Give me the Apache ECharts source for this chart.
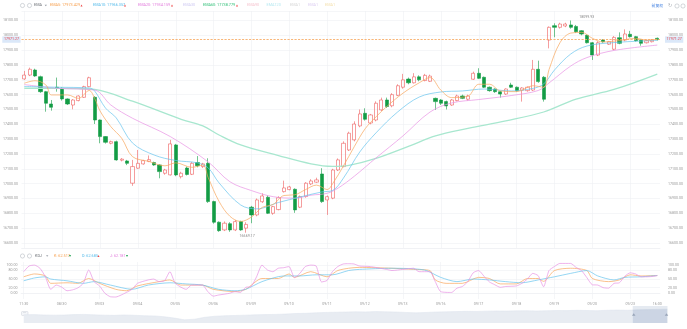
<!DOCTYPE html>
<html>
<head>
<meta charset="utf-8">
<title>EMA / KDJ 60分钟K线</title>
<script src="https://cdn.jsdelivr.net/npm/echarts@6/dist/echarts.min.js"></script>
<style>
  html, body { margin: 0; padding: 0; background: #ffffff; }
  #chart { width: 687px; height: 329px; }
</style>
</head>
<body>
<div id="chart"></div>
<script>
// ---- tick labels of the time axis (one label every tickStep bars) ----
const tickLabels = ['11:30', '08/30', '09/03', '09/04', '09/05', '09/06', '09/09', '09/10', '09/11',
  '09/12', '09/13', '09/16', '09/17', '09/18', '09/19', '09/20', '09/23'];
const closingTick = '16:00';
const tickStep = 7;

// ---- 60-minute bars: [open, close, low, high] ----
const bars = [
  [17706, 17732, 17700, 17760], [17732, 17771, 17725, 17782], [17766, 17726, 17720, 17775], [17721, 17620, 17612, 17728],
  [17620, 17542, 17485, 17625], [17537, 17515, 17492, 17564], [17650, 17644, 17620, 17715], [17643, 17571, 17560, 17650],
  [17571, 17537, 17530, 17575], [17530, 17564, 17501, 17570], [17560, 17591, 17555, 17595], [17582, 17654, 17578, 17660],
  [17654, 17714, 17650, 17721], [17582, 17429, 17402, 17590], [17429, 17317, 17272, 17432], [17317, 17279, 17270, 17320],
  [17272, 17283, 17265, 17290], [17283, 17160, 17155, 17290], [17158, 17165, 17150, 17172], [17153, 17137, 17125, 17160],
  [17003, 17115, 16985, 17160], [17104, 17137, 17100, 17227], [17133, 17155, 17128, 17160], [17150, 17162, 17145, 17190],
  [17142, 17126, 17120, 17148], [17126, 17081, 17036, 17130], [17070, 17092, 17060, 17100], [17059, 17268, 17055, 17295],
  [17261, 17059, 17050, 17268], [17047, 17070, 17035, 17080], [17105, 17062, 17055, 17115], [17063, 17137, 17058, 17145],
  [17142, 17121, 17110, 17186], [17115, 17133, 17105, 17140], [17137, 16879, 16870, 17171], [16879, 16740, 16730, 16885],
  [16740, 16683, 16675, 16745], [16688, 16733, 16680, 16745], [16730, 16688, 16675, 16740], [16688, 16744, 16680, 16755],
  [16744, 16688, 16682, 16750], [16700, 16725, 16669.17, 16740], [16841, 16789, 16733, 16850], [16789, 16890, 16780, 16900],
  [16878, 16917, 16870, 16935], [16908, 16800, 16795, 16920], [16800, 16845, 16790, 16850], [16825, 16905, 16820, 16915],
  [16946, 16971, 16940, 17020], [16960, 16978, 16955, 16985], [16962, 16823, 16803, 16968], [16841, 16913, 16835, 16920],
  [16913, 17003, 16905, 17010], [16998, 17018, 16990, 17030], [17010, 17025, 17005, 17040], [17065, 16879, 16870, 17104],
  [16890, 16912, 16789, 16920], [16902, 17092, 16895, 17100], [17092, 17160, 17085, 17170], [17115, 17272, 17110, 17285],
  [17227, 17340, 17220, 17350], [17295, 17402, 17285, 17420], [17389, 17470, 17380, 17500], [17474, 17434, 17425, 17508],
  [17409, 17463, 17400, 17470], [17429, 17542, 17420, 17555], [17497, 17564, 17490, 17580], [17564, 17520, 17510, 17580],
  [17525, 17600, 17515, 17610], [17595, 17660, 17590, 17670], [17650, 17700, 17640, 17740], [17705, 17680, 17670, 17715],
  [17680, 17720, 17675, 17745], [17720, 17700, 17690, 17730], [17695, 17730, 17690, 17740], [17690, 17725, 17685, 17735],
  [17575, 17553, 17497, 17580], [17564, 17542, 17530, 17570], [17553, 17524, 17500, 17560], [17530, 17564, 17525, 17570],
  [17560, 17591, 17555, 17600], [17591, 17575, 17570, 17600], [17569, 17591, 17560, 17600], [17704, 17744, 17700, 17755],
  [17744, 17710, 17705, 17778], [17717, 17650, 17645, 17722], [17650, 17627, 17620, 17655], [17638, 17620, 17612, 17642],
  [17620, 17604, 17580, 17625], [17604, 17638, 17598, 17642], [17665, 17650, 17645, 17680], [17650, 17627, 17620, 17655],
  [17630, 17645, 17553, 17650], [17627, 17650, 17620, 17655], [17631, 17771, 17625, 17834], [17771, 17688, 17680, 17829],
  [17717, 17569, 17553, 17725], [17968, 18054, 17912, 18060], [18065, 18054, 17987, 18081], [18054, 18076, 18045, 18085],
  [18063, 18076, 18055, 18085], [18070, 18054, 18045, 18099.93], [18060, 18024, 18015, 18070], [18031, 18009, 18000, 18035],
  [18000, 17950, 17945, 18005], [17950, 17867, 17834, 17955], [17867, 17950, 17860, 17960], [17968, 17957, 17950, 17975],
  [17940, 17957, 17935, 17962], [17906, 17986, 17900, 17995], [17984, 17946, 17940, 18020], [17968, 18009, 17960, 18040],
  [18007, 17991, 17985, 18030], [17991, 17964, 17958, 17996], [17968, 17946, 17930, 17972], [17950, 17964, 17945, 17970],
  [17957, 17968, 17952, 17975], [17980, 17971.27, 17965, 17985]
];

// ---- moving averages, [bar index, value] ----
const ema5 = [[0, 17677], [2, 17694], [4, 17665], [5, 17598], [8, 17598], [10, 17575], [12, 17628], [13, 17575], [14, 17490],
  [16, 17384], [18, 17306], [20, 17182], [23, 17150], [26, 17120], [28, 17140], [31, 17110], [33, 17125], [34, 17040],
  [36, 16880], [38, 16780], [40, 16745], [42, 16775], [44, 16840], [46, 16860], [48, 16920], [50, 16925], [52, 16960],
  [54, 16990], [56, 16960], [57, 17000], [59, 17120], [61, 17250], [63, 17370], [65, 17450], [67, 17520], [70, 17610],
  [73, 17680], [75, 17715], [77, 17630], [79, 17580], [82, 17590], [84, 17670], [86, 17670], [88, 17625], [91, 17620],
  [94, 17660], [96, 17650], [97, 17770], [99, 17950], [101, 18015], [103, 18020], [105, 17980], [107, 17955], [110, 17965],
  [113, 17980], [115, 17968], [117, 17973.429]];
const ema10 = [[0, 17655], [6, 17650], [12, 17645], [13, 17625], [15, 17510], [17, 17443], [20, 17274], [24, 17193],
  [28, 17156], [32, 17140], [34, 17106], [36, 17005], [40, 16856], [43, 16830], [47, 16873], [51, 16910], [55, 16944],
  [57, 16954], [59, 17038], [62, 17213], [65, 17342], [69, 17483], [73, 17584], [77, 17618], [81, 17625], [85, 17638],
  [90, 17625], [94, 17642], [96, 17672], [98, 17766], [101, 17874], [104, 17928], [109, 17951], [117, 17966.357]];
const ema20 = [[0, 17668], [6, 17643], [13, 17631], [16, 17530], [20, 17441], [27, 17317], [34, 17146], [38, 17013],
  [42, 16953], [46, 16912], [50, 16902], [53, 16922], [56, 16935], [58, 16970], [61, 17050], [65, 17173], [70, 17322],
  [75, 17483], [79, 17544], [84, 17567], [90, 17594], [95, 17628], [97, 17679], [101, 17793], [104, 17850], [109, 17898],
  [117, 17934.159]];
const ema60 = [[0, 17643], [10, 17640], [13, 17635], [20, 17556], [29, 17434], [33, 17389], [36, 17328], [40, 17261],
  [47, 17189], [53, 17133], [57, 17116], [60, 17123], [65, 17170], [71, 17251], [76, 17322], [82, 17372], [89, 17423],
  [96, 17483], [102, 17570], [109, 17635], [117, 17738.779]];

// ---- KDJ(9,3,3), [bar index, value] ----
const kLine = [[0, 58], [2, 68], [4, 61], [5, 35], [8, 37], [10, 35], [12, 52], [14, 35], [17, 14], [19, 9], [21, 26],
  [25, 41], [27, 47], [29, 29], [33, 29], [35, 14], [39, 6], [41, 14], [44, 52], [47, 52], [49, 68], [50, 56], [53, 76],
  [56, 58], [58, 80], [60, 88], [62, 91], [68, 88], [72, 84], [75, 80], [76, 47], [78, 35], [81, 35], [84, 56], [86, 52],
  [88, 33], [91, 33], [93, 52], [95, 52], [96, 42], [98, 80], [101, 88], [104, 80], [105, 52], [108, 41], [110, 47],
  [112, 65], [114, 61], [117, 62.517]];
const dLine = [[0, 44], [2, 54], [4, 58], [5, 50], [8, 44], [11, 35], [13, 41], [16, 29], [20, 14], [23, 29], [27, 37],
  [30, 33], [33, 29], [36, 14], [39, 9], [41, 14], [44, 41], [48, 61], [51, 61], [54, 65], [57, 65], [60, 80], [62, 84],
  [68, 88], [74, 82], [77, 56], [80, 41], [83, 50], [86, 47], [89, 41], [92, 37], [95, 47], [98, 58], [101, 70], [104, 80],
  [106, 61], [109, 47], [111, 56], [114, 58], [117, 62.685]];
const jLine = [[0, 76], [1, 96], [2, 99], [3, 88], [4, 58], [5, 14], [6, 29], [7, 22], [8, 9], [9, 12], [10, 19], [11, 35],
  [12, 82], [13, 41], [14, 26], [15, 0], [16, -12], [17, -13], [18, -6], [20, 14], [21, 35], [23, 47], [24, 50], [25, 41],
  [26, 44], [27, 76], [28, 35], [30, 14], [31, 29], [33, 29], [34, 6], [35, -10], [36, -6], [38, 0], [39, 6], [40, 3],
  [41, 21], [42, 24], [43, 58], [44, 99], [45, 82], [46, 76], [47, 88], [48, 90], [49, 94], [50, 55], [51, 70], [52, 94],
  [53, 99], [54, 96], [55, 40], [56, 45], [57, 76], [58, 94], [59, 103], [60, 104], [61, 103], [62, 96], [64, 94], [67, 84],
  [68, 80], [70, 84], [72, 88], [73, 76], [75, 76], [76, 41], [77, 6], [79, 3], [80, 18], [81, 24], [82, 41], [83, 72],
  [84, 80], [85, 60], [86, 40], [87, 30], [88, 21], [89, 24], [91, 26], [92, 35], [93, 50], [94, 70], [95, 62], [96, 23],
  [97, 80], [98, 94], [99, 105], [101, 105], [102, 91], [103, 80], [104, 55], [105, 30], [106, 29], [107, 20], [108, 18],
  [109, 35], [110, 37], [111, 60], [112, 72], [113, 68], [114, 58], [115, 58], [116, 59], [117, 62.181]];
const kdjTicks = [0, 20, 50, 80, 100];

// ---- long-range closes behind the zoom slider ----
const historyClose = [16440, 16500, 16410, 16350, 16380, 16500, 16560, 16440, 16350, 16290, 16410, 16320,
  16200, 16140, 15900, 15540, 15060, 15240, 15750, 16050, 16200, 16260, 16350, 16440, 16500, 16560, 16650, 16800,
  16860, 16980, 17100, 17160, 17220, 17280, 17250, 17340, 17280, 17220, 17100, 16980, 17100, 17220, 17280, 17340,
  17400, 17370, 17460, 17520, 17490, 17550, 17580, 17520, 17580, 17640, 17610, 17700, 17640, 17580, 17700, 17760,
  17700, 17820, 17880, 17940, 18000];

// ---------------------------------------------------------------------------
const N = bars.length;
const categories = bars.map((_, i) => String(i));
const tickIdx = tickLabels.map((_, k) => k * tickStep);
const lastClose = bars[N - 1][1];
const last = arr => arr[arr.length - 1][1];

const FONT = 'Roboto, "Noto Sans", sans-serif';
const AXIS_FS = 3.6;
const LEG_FS = 3.8;
const GRID_COLOR = '#eef0f3';

const priceFmt = v => (Math.abs(v % 100) < 1e-6 ? v.toFixed(2) : '');
const kdjFmt = v => (kdjTicks.indexOf(v) >= 0 ? v.toFixed(2) : '');

const axisLabelBase = { fontSize: AXIS_FS, color: '#9b9b9b', fontFamily: FONT };

const vGrid = tickIdx.map(i => ({ xAxis: i }));
const gridLineMark = extra => Object.assign({
  silent: true, symbol: 'none', animation: false, z: 1,
  label: { show: false },
  lineStyle: { color: GRID_COLOR, width: 0.6, type: 'solid' }
}, extra);

// legend helpers
const txt = (x, y, text, fill, extra) => ({
  type: 'text', x, y, silent: true,
  style: Object.assign({ text, fill, fontSize: LEG_FS, fontFamily: FONT, verticalAlign: 'middle', align: 'left' }, extra || {})
});
const ring = (cx, cy) => ({ type: 'circle', silent: true, shape: { cx, cy, r: 2.1 },
  style: { fill: 'none', stroke: '#a9aeb6', lineWidth: 0.5 } });
const caret = (x, y) => ({ type: 'polygon', silent: true,
  shape: { points: [[x, y - 0.8], [x + 2.4, y - 0.8], [x + 1.2, y + 0.8]] }, style: { fill: '#9aa0a8' } });
const arrow = (x, y, up) => ({ type: 'polygon', silent: true,
  shape: { points: up ? [[x, y + 1], [x + 2, y + 1], [x + 1, y - 1]] : [[x, y - 1], [x + 2, y - 1], [x + 1, y + 1]] },
  style: { fill: up ? '#f04848' : '#19a04c' } });

const C = {
  ema5: '#f7a04f', ema10: '#56bbea', ema20: '#e27cdc', ema60: '#35c07a',
  line5: '#f8a65c', line10: '#67c4ee', line20: '#e892e4', line60: '#a8e7cf',
  up: '#ee5c5c', down: '#139c45'
};

const graphic = [
  // main panel indicator row
  ring(22.5, 5.5), ring(29.5, 5.5),
  txt(34, 5.5, 'EMA', '#6b6f75'),
  caret(44.6, 5.5),
  txt(50, 5.5, 'EMA5: ' + last(ema5).toFixed(3), C.ema5), arrow(80.5, 5.5, true),
  txt(93, 5.5, 'EMA10: ' + last(ema10).toFixed(3), C.ema10), arrow(124, 5.5, true),
  txt(138, 5.5, 'EMA20: ' + last(ema20).toFixed(3), C.ema20), arrow(171, 5.5, true),
  txt(183, 5.5, 'EMA30', '#cfcaf2'),
  txt(203, 5.5, 'EMA60: ' + last(ema60).toFixed(3), C.ema60), arrow(236, 5.5, true),
  txt(247, 5.5, 'EMA90', '#f6c5d0'),
  txt(266.5, 5.5, 'EMA120', '#b7e9f1'),
  txt(290, 5.5, 'EMA1', '#d6d6d6'),
  txt(308, 5.5, 'EMA1', '#dccdf1'),
  txt(325, 5.5, 'EMA1', '#f3dfab'),
  // top-right tools
  txt(651.5, 6, '前复权', '#3f7fe0', { fontFamily: '"Noto Sans CJK SC", sans-serif', fontSize: 3.9 }),
  txt(667.5, 6, '↻', '#a9aeb6', { fontSize: 5 }),
  ring(677, 6), ring(683, 6),
  // KDJ indicator row
  ring(22.5, 256), ring(29.5, 256),
  txt(35, 256, 'KDJ', '#6b6f75'),
  caret(46, 256),
  txt(54, 256, 'K: ' + last(kLine).toFixed(3), C.ema5), arrow(69, 256, false),
  txt(82, 256, 'D: ' + last(dLine).toFixed(3), C.ema10), arrow(97.5, 256, true),
  txt(110, 256, 'J: ' + last(jLine).toFixed(3), C.ema20), arrow(126, 256, false),
  // slider extras
  { type: 'rect', silent: true, shape: { x: 21.5, y: 311.5, width: 6.5, height: 4, r: 0.8 },
    style: { fill: '#f4f6f9', stroke: '#c2c8d1', lineWidth: 0.4 } },
  txt(24.75, 313.4, '···', '#8f98a6', { fontSize: 3.6, align: 'center' }),
  txt(275, 321, '2024', '#8f98a6', { fontSize: AXIS_FS, align: 'center' })
];

const lineSeries = (name, data, color, width, xi, yi, extra) => Object.assign({
  name, type: 'line', data, xAxisIndex: xi, yAxisIndex: yi,
  symbol: 'none', smooth: 0.35, silent: true, animation: false,
  lineStyle: { color, width }
}, extra || {});

const option = {
  animation: false,
  backgroundColor: '#ffffff',
  textStyle: { fontFamily: FONT },
  grid: [
    { left: 21, top: 11, width: 639, height: 237 },
    { left: 21, top: 262, width: 639, height: 37 },
    { left: 21, top: 306, width: 644, height: 17 }
  ],
  xAxis: [
    { type: 'category', gridIndex: 0, data: categories, boundaryGap: true,
      axisLine: { show: true, lineStyle: { color: GRID_COLOR, width: 0.6 } }, axisTick: { show: false },
      axisLabel: { show: false }, splitLine: { show: false } },
    { type: 'category', gridIndex: 1, data: categories, boundaryGap: true,
      axisLine: { show: true, lineStyle: { color: GRID_COLOR, width: 0.6 } }, axisTick: { show: false },
      splitLine: { show: false },
      axisLabel: Object.assign({}, axisLabelBase, {
        margin: 3,
        interval: i => (i % tickStep === 0 && i / tickStep < tickLabels.length) || i === N - 1,
        formatter: (v, i) => (i === N - 1 ? closingTick : tickLabels[i / tickStep])
      }) },
    { type: 'category', gridIndex: 2, data: historyClose.map((_, i) => String(i)), show: false }
  ],
  yAxis: [
    { type: 'value', gridIndex: 0, position: 'left', min: 16566, max: 18164, splitNumber: 16,
      axisLine: { show: false }, axisTick: { show: false },
      axisLabel: Object.assign({}, axisLabelBase, { margin: 3.5, formatter: priceFmt }),
      splitLine: { lineStyle: { color: GRID_COLOR, width: 0.6 } } },
    { type: 'value', gridIndex: 0, position: 'right', min: 16566, max: 18164, splitNumber: 16,
      axisLine: { show: false }, axisTick: { show: false },
      axisLabel: Object.assign({}, axisLabelBase, { margin: 8, formatter: priceFmt }),
      splitLine: { show: false } },
    { type: 'value', gridIndex: 1, position: 'left', min: -20, max: 110, interval: 10,
      axisLine: { show: false }, axisTick: { show: false },
      axisLabel: Object.assign({}, axisLabelBase, { margin: 3.5, formatter: kdjFmt }),
      splitLine: { show: false } },
    { type: 'value', gridIndex: 1, position: 'right', min: -20, max: 110, interval: 10,
      axisLine: { show: false }, axisTick: { show: false },
      axisLabel: Object.assign({}, axisLabelBase, { margin: 8, formatter: kdjFmt }),
      splitLine: { show: false } },
    { type: 'value', gridIndex: 2, show: false, scale: true }
  ],
  dataZoom: [{
    type: 'slider', xAxisIndex: 2, left: 21, width: 644, top: 306, height: 17,
    start: 94.6, end: 100, zoomLock: true,
    showDetail: false, brushSelect: false, moveHandleSize: 0, showDataShadow: true,
    moveHandleStyle: { opacity: 0 },
    backgroundColor: 'rgba(0,0,0,0)', borderColor: 'rgba(0,0,0,0)',
    fillerColor: 'rgba(170,186,210,0.3)',
    dataBackground: { lineStyle: { color: '#dde3ec', width: 0.5 }, areaStyle: { color: '#e8ecf2', opacity: 1 } },
    selectedDataBackground: { lineStyle: { color: '#d3dae6', width: 0.5 }, areaStyle: { color: '#dbe1ec', opacity: 1 } },
    handleIcon: 'path://M0,0L8,0L4,6Z', handleSize: 3.5,
    handleStyle: { color: '#98a4b8', borderWidth: 0 },
    emphasis: { handleStyle: { color: '#98a4b8', borderWidth: 0 }, moveHandleStyle: { opacity: 0 } },
    textStyle: { fontSize: 1, color: 'rgba(0,0,0,0)' }
  }],
  graphic,
  series: [
    {
      name: 'K线', type: 'candlestick', data: bars, xAxisIndex: 0, yAxisIndex: 0,
      barWidth: '68%', silent: true, animation: false,
      itemStyle: { color: 'rgba(255,255,255,0)', color0: C.down, borderColor: C.up, borderColor0: C.down, borderWidth: 0.6 },
      markLine: {
        silent: true, symbol: 'none', animation: false,
        lineStyle: { color: '#f6a85e', type: [2, 1.5], width: 0.6 },
        label: {
          formatter: () => lastClose.toFixed(2), color: '#e8484d', fontSize: AXIS_FS, fontFamily: FONT,
          backgroundColor: '#dbe8f9', padding: [1.2, 1.6]
        },
        data: [
          { yAxis: lastClose, label: { position: 'start', distance: 1 } },
          { yAxis: lastClose, label: { position: 'end', distance: 5 } }
        ]
      },
      markPoint: {
        silent: true, animation: false, symbol: 'circle', symbolSize: 0,
        label: { color: '#8a8a8a', fontSize: AXIS_FS, fontFamily: FONT, formatter: p => Number(p.value).toFixed(2) },
        data: [
          { type: 'max', valueDim: 'highest', label: { offset: [16, -3] } },
          { type: 'min', valueDim: 'lowest', label: { offset: [1, 3.5] } }
        ]
      }
    },
    lineSeries('EMA60', ema60, C.line60, 1.3, 0, 0, { markLine: gridLineMark({ data: vGrid }) }),
    lineSeries('EMA20', ema20, C.line20, 0.7, 0, 0),
    lineSeries('EMA10', ema10, C.line10, 0.7, 0, 0),
    lineSeries('EMA5', ema5, C.line5, 0.7, 0, 0),
    lineSeries('K', kLine, C.line5, 0.7, 1, 2, {
      smooth: 0.25,
      markLine: gridLineMark({ data: vGrid.concat(kdjTicks.map(v => ({ yAxis: v }))) })
    }),
    lineSeries('D', dLine, C.line10, 0.7, 1, 2, { smooth: 0.25 }),
    lineSeries('J', jLine, C.line20, 0.7, 1, 2, { smooth: 0.2 }),
    { name: 'history', type: 'line', data: historyClose, xAxisIndex: 2, yAxisIndex: 4,
      symbol: 'none', silent: true, lineStyle: { opacity: 0 } }
  ]
};

const chart = echarts.init(document.getElementById('chart'));
chart.setOption(option);
</script>
</body>
</html>
